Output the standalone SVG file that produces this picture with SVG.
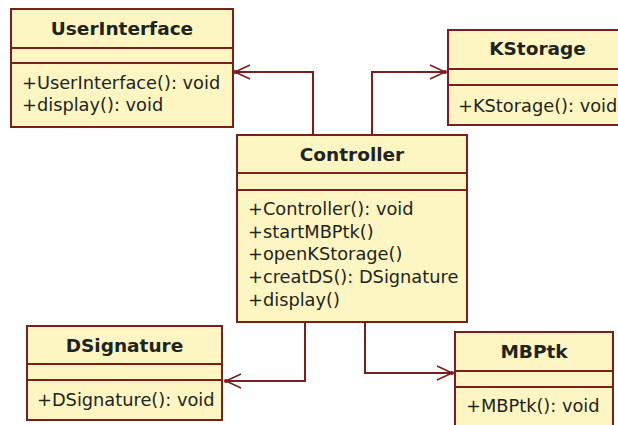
<svg xmlns="http://www.w3.org/2000/svg" width="618" height="425" viewBox="0 0 618 425">
<defs>
<style>
.box{fill:#FDF6C3;stroke:#7A1E1E;stroke-width:2}
.sep{stroke:#7A1E1E;stroke-width:2}
.t{font-family:"DejaVu Sans",Verdana,sans-serif;font-size:18.5px;font-weight:bold;fill:#1E2420;text-anchor:middle}
.m{font-family:"DejaVu Sans",Verdana,sans-serif;font-size:17.8px;fill:#1E2420}
.c{fill:none;stroke:#7A1E1E;stroke-width:2}
</style>
<marker id="dep" markerUnits="userSpaceOnUse" markerWidth="20" markerHeight="20" refX="16" refY="10" orient="auto" viewBox="0 0 20 20">
<path d="M1 3 L16 10 L1 17" fill="none" stroke="#7A1E1E" stroke-width="1.6"/>
<circle cx="16" cy="10" r="2" fill="#7A1E1E"/>
</marker>
</defs>
<rect width="618" height="425" fill="#FFFFFF"/>
<g id="connectors">
<polyline class="c" points="313,135 313,72 235,72" marker-end="url(#dep)"/>
<polyline class="c" points="372,135 372,72 445,72" marker-end="url(#dep)"/>
<polyline class="c" points="305,322 305,381 226,381" marker-end="url(#dep)"/>
<polyline class="c" points="365,322 365,373 452,373" marker-end="url(#dep)"/>
</g>
<g id="UserInterface">
<rect class="box" x="11" y="9" width="222" height="118"/>
<line class="sep" x1="11" y1="48" x2="233" y2="48"/>
<line class="sep" x1="11" y1="63" x2="233" y2="63"/>
<text class="t" x="122" y="34.5">UserInterface</text>
<text class="m" x="22" y="89">+UserInterface(): void</text>
<text class="m" x="22" y="111">+display(): void</text>
</g>
<g id="KStorage">
<rect class="box" x="448" y="30" width="180" height="95"/>
<line class="sep" x1="448" y1="69" x2="628" y2="69"/>
<line class="sep" x1="448" y1="85" x2="628" y2="85"/>
<text class="t" x="537.5" y="55">KStorage</text>
<text class="m" x="458" y="112">+KStorage(): void</text>
</g>
<g id="Controller">
<rect class="box" x="237" y="135" width="230" height="187"/>
<line class="sep" x1="237" y1="173" x2="467" y2="173"/>
<line class="sep" x1="237" y1="190" x2="467" y2="190"/>
<text class="t" x="352" y="161">Controller</text>
<text class="m" x="248" y="215">+Controller(): void</text>
<text class="m" x="248" y="237.5">+startMBPtk()</text>
<text class="m" x="248" y="260">+openKStorage()</text>
<text class="m" x="248" y="283">+creatDS(): DSignature</text>
<text class="m" x="248" y="306">+display()</text>
</g>
<g id="DSignature">
<rect class="box" x="27" y="326" width="195" height="94"/>
<line class="sep" x1="27" y1="364" x2="222" y2="364"/>
<line class="sep" x1="27" y1="380" x2="222" y2="380"/>
<text class="t" x="124.5" y="352">DSignature</text>
<text class="m" x="37" y="406">+DSignature(): void</text>
</g>
<g id="MBPtk">
<rect class="box" x="455" y="332" width="158" height="100"/>
<line class="sep" x1="455" y1="371" x2="613" y2="371"/>
<line class="sep" x1="455" y1="387" x2="613" y2="387"/>
<text class="t" x="534" y="358">MBPtk</text>
<text class="m" x="466" y="412">+MBPtk(): void</text>
</g>
</svg>
